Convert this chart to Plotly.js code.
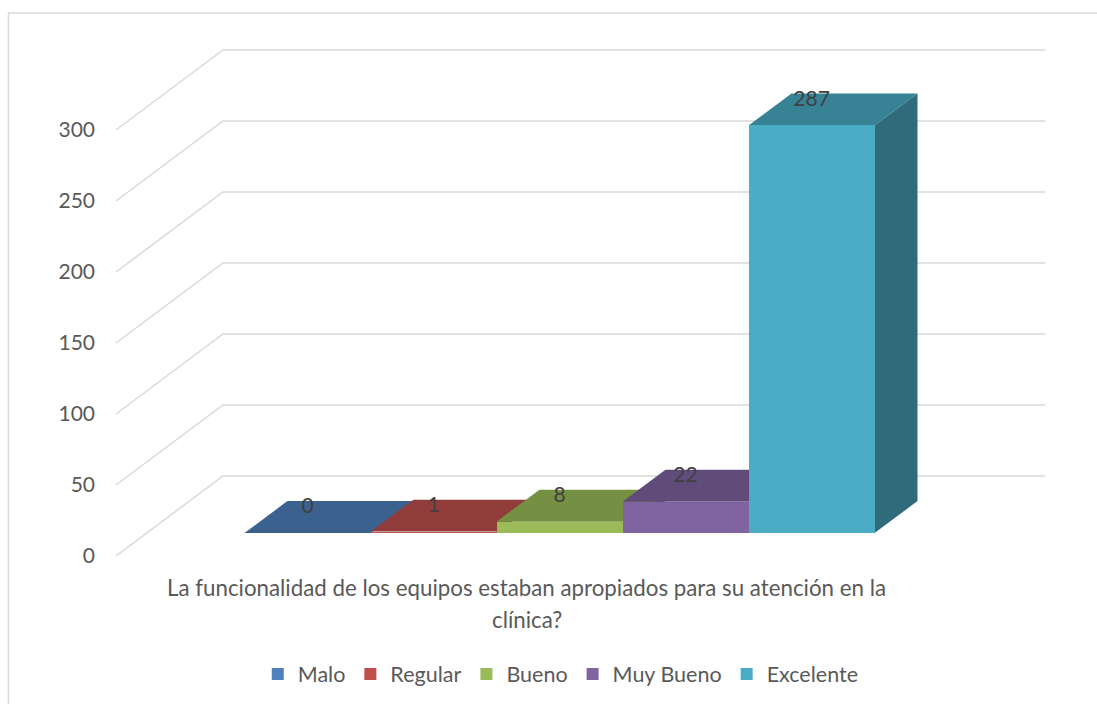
<!DOCTYPE html>
<html><head><meta charset="utf-8">
<script src="https://cdn.plot.ly/plotly-3.0.1.min.js"></script>
<style>html,body{margin:0;padding:0;background:#fff}#chart{width:1097px;height:704px}</style>
</head><body><div id="chart"></div>
<script>
// ---- data ----
const seriesNames = ['Malo', 'Regular', 'Bueno', 'Muy Bueno', 'Excelente'];
const seriesValues = [0, 1, 8, 22, 287];
const yTickValues = [0, 50, 100, 150, 200, 250, 300];
const categoryLines = ['La funcionalidad de los equipos estaban apropiados para su atención en la', 'clínica?'];

// ---- styles ----
const frontColors = ['#4F81BD', '#C0504D', '#9BBB59', '#8064A2', '#4BACC6'];
const topColors = ['#3B618E', '#903C3A', '#758F43', '#604B7A', '#388296'];
const sideColors = ['#2F4D71', '#73302E', '#5E7235', '#4C3C61', '#306B7B'];
const FONT = 'Lato, "Open Sans", sans-serif';

// ---- geometry (axis units) ----
const X_MIN = -1.5675, X_MAX = 5.948, Y_MAX = 363.4;
const WALL_LEFT = -1.520, WALL_RIGHT = 5.853;
const DEPTH_X = 0.849, DEPTH_Y = 56.34;   // front plane -> back wall
const BAR_BASE = 16.2;                    // bar fronts sit part way back
const BAR_DX = 0.341, BAR_DY = 22.5;      // bar depth
const HALF_W = 0.5;
const LABEL_LIFT = 17.6;
const CAT_CENTER = 1.738;

const idx = seriesNames.map((_, i) => i);
const shapes = [];

// chart border (left + top)
shapes.push({type: 'path', xref: 'paper', yref: 'paper',
  path: 'M-0.1072,-0.4 L-0.1072,1.0523 L1.2,1.0523',
  line: {color: '#D9D9D9', width: 1.5}, layer: 'below'});

// gridlines: back wall + side diagonals
yTickValues.forEach(v => {
  const yb = v + DEPTH_Y, xb = WALL_LEFT + DEPTH_X;
  shapes.push({type: 'path', xref: 'x', yref: 'y',
    path: `M${WALL_LEFT},${v} L${xb},${yb} L${WALL_RIGHT},${yb}`,
    line: {color: '#D9D9D9', width: 1.5}, layer: 'below'});
});

// bar top and side faces
idx.forEach(i => {
  const v = seriesValues[i];
  const l = i - HALF_W, r = i + HALF_W, b = BAR_BASE, t = BAR_BASE + v;
  if (v > 0) {
    shapes.push({type: 'path', xref: 'x', yref: 'y',
      path: `M${r},${b} L${r},${t} L${r + BAR_DX},${t + BAR_DY} L${r + BAR_DX},${b + BAR_DY} Z`,
      fillcolor: sideColors[i], line: {width: 0}, layer: 'below'});
  }
  shapes.push({type: 'path', xref: 'x', yref: 'y',
    path: `M${l},${t} L${r},${t} L${r + BAR_DX},${t + BAR_DY} L${l + BAR_DX},${t + BAR_DY} Z`,
    fillcolor: topColors[i], line: {width: 0}, layer: 'below'});
});

const traces = idx.map(i => ({
  type: 'bar', name: seriesNames[i], x: [i], y: [seriesValues[i]], base: [BAR_BASE],
  width: [1], marker: {color: frontColors[i], line: {width: 0}}, hoverinfo: 'skip'
}));

traces.push({
  type: 'scatter', mode: 'text', x: idx, y: seriesValues.map(v => BAR_BASE + v + LABEL_LIFT),
  text: seriesValues.map(String), textposition: 'middle center',
  textfont: {family: FONT, size: 21, color: '#404040'},
  showlegend: false, hoverinfo: 'skip', cliponaxis: false
});

const layout = {
  width: 1097, height: 704, autosize: false,
  margin: {l: 110, r: 40, t: 40, b: 148, autoexpand: false},
  paper_bgcolor: '#fff', plot_bgcolor: 'rgba(0,0,0,0)',
  barmode: 'overlay', bargap: 0,
  showlegend: true,
  font: {family: FONT, color: '#595959'},
  xaxis: {range: [X_MIN, X_MAX], showgrid: false, zeroline: false, showline: false,
    showticklabels: false, ticks: '', fixedrange: true, automargin: false},
  yaxis: {range: [0, Y_MAX], tickvals: yTickValues, ticktext: yTickValues.map(String),
    showgrid: false, zeroline: false, showline: false, ticks: '', automargin: false,
    ticklabelstandoff: 14, tickfont: {family: FONT, size: 21, color: '#595959'}, fixedrange: true},
  legend: {orientation: 'h', x: 0.4760, xanchor: 'center', y: -0.2287, yanchor: 'middle',
    font: {family: FONT, size: 21.5, color: '#595959'}, bgcolor: 'rgba(0,0,0,0)'},
  shapes: shapes,
  annotations: categoryLines.map((txt, k) => ({
    text: txt, xref: 'x', yref: 'paper', x: CAT_CENTER, y: k === 0 ? -0.062 : -0.124,
    xanchor: 'center', yanchor: 'middle', showarrow: false,
    font: {family: FONT, size: 22.3, color: '#595959'}
  }))
};

Plotly.newPlot('chart', traces, layout, {displayModeBar: false, staticPlot: true});
</script>
</body></html>
